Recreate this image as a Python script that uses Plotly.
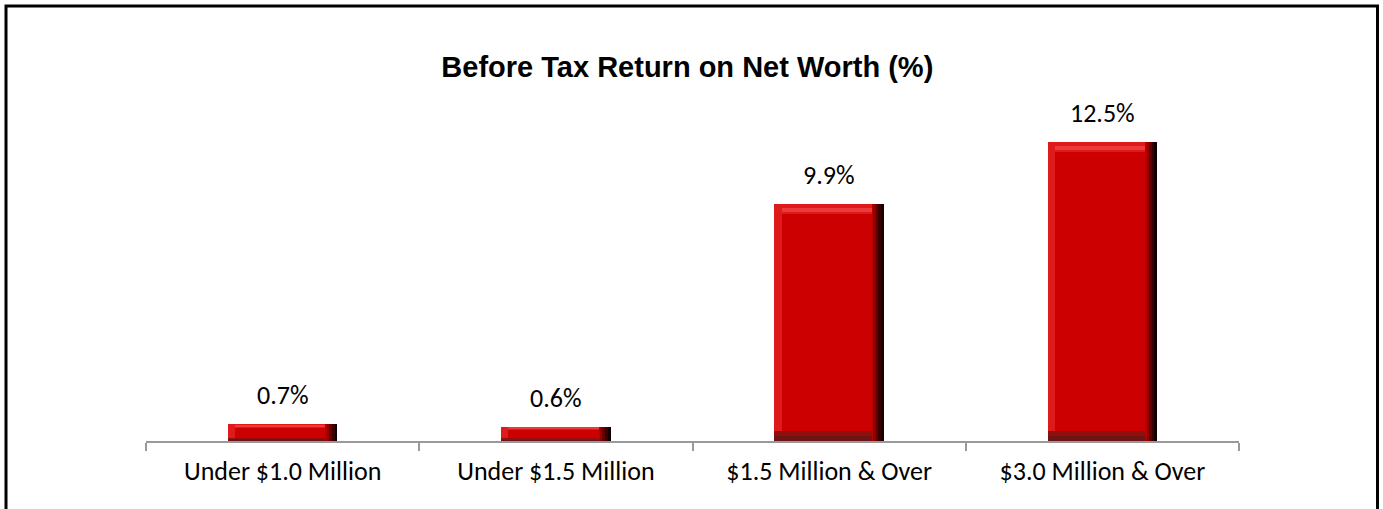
import plotly.graph_objects as go

categories = ["Under $1.0 Million", "Under $1.5 Million", "$1.5 Million & Over", "$3.0 Million & Over"]
values = [0.7, 0.6, 9.9, 12.5]
label_texts = ["0.7%", "0.6%", "9.9%", "12.5%"]
title_text = "Before Tax Return on Net Worth (%)"

W, H = 1383, 509
ML, MR, MT, MB = 146, 144, 100, 68
plot_w = W - ML - MR
plot_h = H - MT - MB
YMAX = 14.26
px_per_unit_y = plot_h / YMAX
px_per_cat = plot_w / len(categories)

bar_w = 0.40
hx = 12 / px_per_cat           # side bevel in category units
bevel_px = 10
bv = [min(bevel_px / px_per_unit_y, v * 0.2) for v in values]

LABEL_FONT = "Carlito, Calibri, Lato, sans-serif"

fig = go.Figure()

common = dict(x=categories, hoverinfo="skip", showlegend=False, marker_line_width=0)

# right edge gradient (dark to red), drawn from outer to inner
right_steps = [("#120000", 0.0), ("#3A0000", 0.22), ("#650000", 0.45), ("#920000", 0.68), ("#B40000", 0.86)]
for col, frac in right_steps:
    fig.add_trace(go.Bar(y=values, width=bar_w - hx * frac, offset=-bar_w / 2,
                         marker_color=col, **common))
# bottom band (two steps)
fig.add_trace(go.Bar(y=values, width=bar_w - hx, offset=-bar_w / 2,
                     marker_color="#6E1414", **common))
fig.add_trace(go.Bar(y=[v - b * 0.5 for v, b in zip(values, bv)], base=[b * 0.5 for b in bv],
                     width=bar_w - hx, offset=-bar_w / 2,
                     marker_color="#901010", **common))
# top / left band
fig.add_trace(go.Bar(y=[v - b for v, b in zip(values, bv)], base=bv,
                     width=bar_w - hx, offset=-bar_w / 2,
                     marker_color="#DE1A1A", **common))
# highlight line in top band
fig.add_trace(go.Bar(y=[b * 0.35 for b in bv], base=[v - b * 0.75 for v, b in zip(values, bv)],
                     width=bar_w - hx * 1.6, offset=-bar_w / 2 + hx * 0.6,
                     marker_color="#EC3A3A", **common))
# face
fig.add_trace(go.Bar(y=[v - 2 * b for v, b in zip(values, bv)], base=bv,
                     width=bar_w - hx - hx * 0.6, offset=-bar_w / 2 + hx * 0.6,
                     marker_color="#CC0000", **common))

for c, v, t in zip(categories, values, label_texts):
    fig.add_annotation(x=c, y=v, text=t, showarrow=False, yshift=29,
                       yanchor="middle", xanchor="center",
                       font=dict(family=LABEL_FONT, size=26, color="#000000"))

# outer frame
def px_to_paper_x(px):
    return (px - ML) / plot_w

def px_to_paper_y(py):
    return (H - MB - py) / plot_h

fig.add_shape(type="rect", xref="paper", yref="paper",
              x0=px_to_paper_x(6), x1=px_to_paper_x(1377.5),
              y0=px_to_paper_y(530), y1=px_to_paper_y(6),
              line=dict(color="#000000", width=3), fillcolor="rgba(0,0,0,0)")

fig.update_layout(
    width=W, height=H,
    margin=dict(l=ML, r=MR, t=MT, b=MB),
    barmode="overlay",
    bargap=0,
    plot_bgcolor="#FFFFFF",
    paper_bgcolor="#FFFFFF",
    title=dict(text="<b>" + title_text + "</b>", x=0.497, xref="container",
               y=1 - 67 / H, yref="container", yanchor="middle", xanchor="center",
               font=dict(family="Liberation Sans, Arial, sans-serif", size=29, color="#000000")),
    xaxis=dict(type="category", range=[-0.5, len(categories) - 0.5],
               showline=True, linecolor="#999999", linewidth=2,
               ticks="outside", tickson="boundaries", ticklen=8, tickwidth=2,
               tickcolor="#999999", showgrid=False, zeroline=False,
               ticklabelstandoff=6,
               tickfont=dict(family=LABEL_FONT, size=26, color="#000000")),
    yaxis=dict(range=[0, YMAX], visible=False, showgrid=False, zeroline=False),
)

fig.write_html("out.html")
